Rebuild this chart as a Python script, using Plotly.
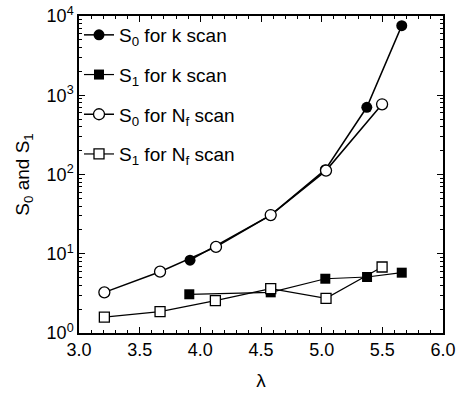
import plotly.graph_objects as go

# data
s0k_x = [3.915, 4.58, 5.03, 5.372, 5.66]
s0k_y = [8.3, 30.8, 115, 705, 7550]
s1k_x = [3.909, 4.58, 5.03, 5.374, 5.66]
s1k_y = [3.08, 3.26, 4.84, 5.09, 5.77]
s0n_x = [3.209, 3.668, 4.129, 4.58, 5.036, 5.498]
s0n_y = [3.26, 5.94, 12.2, 30.8, 112, 769]
s1n_x = [3.209, 3.668, 4.124, 4.58, 5.036, 5.498]
s1n_y = [1.59, 1.86, 2.56, 3.62, 2.74, 6.8]
ytick_vals = [1, 10, 100, 1000, 10000]
ytick_text = ["10<sup>0</sup>", "10<sup>1</sup>", "10<sup>2</sup>", "10<sup>3</sup>", "10<sup>4</sup>"]
xtick_vals = [3.0, 3.5, 4.0, 4.5, 5.0, 5.5, 6.0]
xtick_text = ["3.0", "3.5", "4.0", "4.5", "5.0", "5.5", "6.0"]

fig = go.Figure()
fig.add_trace(go.Scatter(x=s0k_x, y=s0k_y, mode="lines+markers", name="S<sub>0</sub> for k scan",
                         legendgroup="a",
                         line=dict(color="black", width=1.5),
                         marker=dict(symbol="circle", size=11, color="black")))
fig.add_trace(go.Scatter(x=s1k_x, y=s1k_y, mode="lines+markers", name="S<sub>1</sub> for k scan",
                         legendgroup="b",
                         line=dict(color="black", width=1.2),
                         marker=dict(symbol="square", size=10, color="black")))
fig.add_trace(go.Scatter(x=s0n_x, y=s0n_y, mode="lines+markers", name="S<sub>0</sub> for N<sub>f</sub> scan",
                         legendgroup="c",
                         line=dict(color="black", width=1.5),
                         marker=dict(symbol="circle", size=11, color="white", line=dict(color="black", width=1.3))))
fig.add_trace(go.Scatter(x=s1n_x, y=s1n_y, mode="lines+markers", name="S<sub>1</sub> for N<sub>f</sub> scan",
                         legendgroup="d",
                         line=dict(color="black", width=1.2),
                         marker=dict(symbol="square", size=10, color="white", line=dict(color="black", width=1.3))))

font = dict(family="Liberation Sans, Arial, sans-serif", color="black")
fig.update_layout(
    width=457, height=397,
    margin=dict(l=79, r=14, t=16, b=64),
    paper_bgcolor="white", plot_bgcolor="white",
    font=dict(size=16, **font),
    showlegend=True,
    legend=dict(x=0.0, y=1.0, xanchor="left", yanchor="top", bgcolor="rgba(0,0,0,0)",
                font=dict(size=19, **font), tracegroupgap=12, itemwidth=30),
    xaxis=dict(range=[3.0, 6.0], tickvals=xtick_vals, ticktext=xtick_text, automargin=False,
               showline=True, linecolor="black", linewidth=1.5, mirror="ticks",
               ticks="inside", ticklen=6, tickcolor="black", tickwidth=1.2,
               minor=dict(dtick=0.1, ticks="inside", ticklen=3, tickcolor="black"),
               showgrid=False, zeroline=False,
               tickfont=dict(size=18, **font),
               title=dict(text="λ", font=dict(size=19, **font), standoff=14)),
    yaxis=dict(type="log", range=[0, 4], tickvals=ytick_vals, ticktext=ytick_text, automargin=False,
               showline=True, linecolor="black", linewidth=1.5, mirror="ticks",
               ticks="inside", ticklen=6, tickcolor="black", tickwidth=1.2,
               minor=dict(ticks="inside", ticklen=3, tickcolor="black", dtick="D1"),
               showgrid=False, zeroline=False,
               tickfont=dict(size=18, **font),
               title=dict(text="S<sub>0</sub> and S<sub>1</sub>", font=dict(size=19, **font), standoff=12)),
)
fig.write_html("out.html")
